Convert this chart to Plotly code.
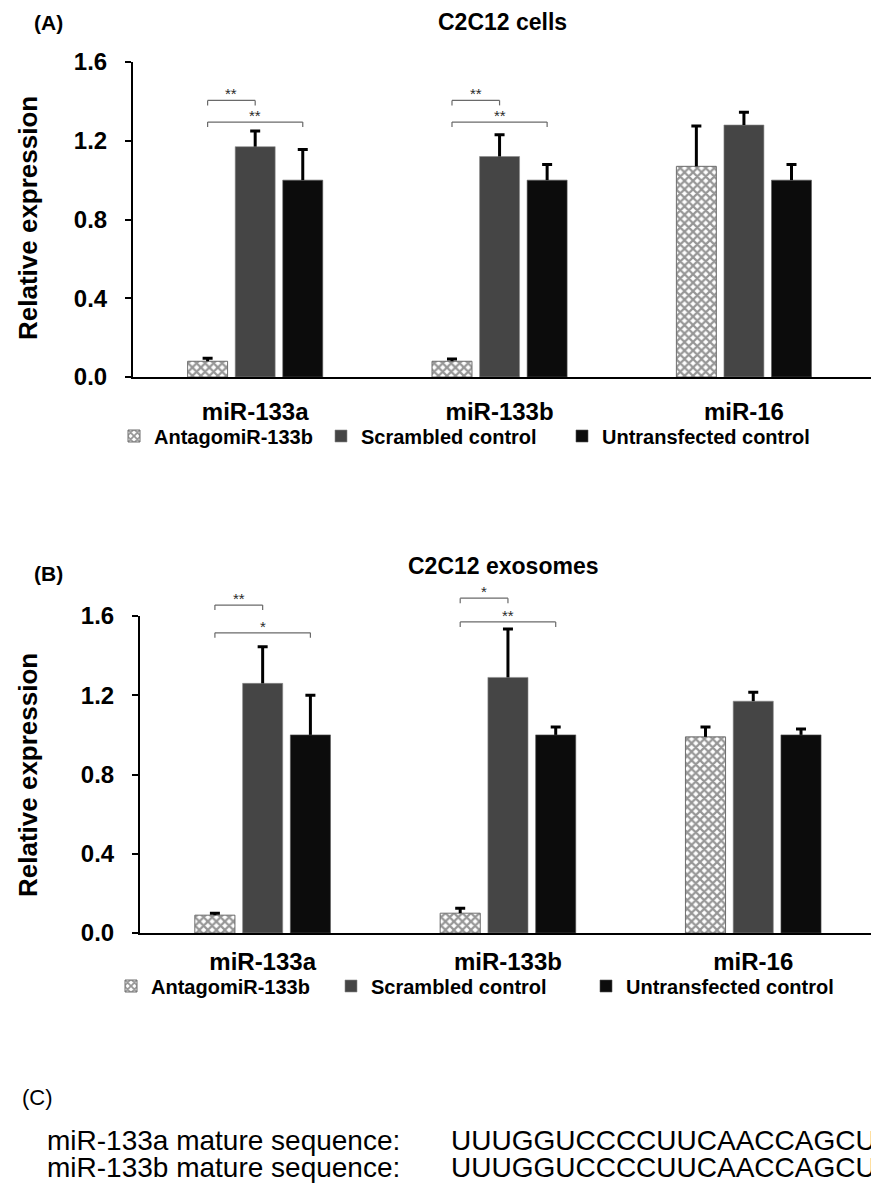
import plotly.graph_objects as go

# ---- data -------------------------------------------------------------
categories = ["miR-133a", "miR-133b", "miR-16"]
series = ["AntagomiR-133b", "Scrambled control", "Untransfected control"]

# C2C12 cells
cells_antago = [0.08, 0.08, 1.07]
cells_antago_err = [0.015, 0.012, 0.205]
cells_scr = [1.17, 1.12, 1.28]
cells_scr_err = [0.08, 0.11, 0.065]
cells_unt = [1.00, 1.00, 1.00]
cells_unt_err = [0.155, 0.08, 0.08]

# C2C12 exosomes
exo_antago = [0.09, 0.10, 0.99]
exo_antago_err = [0.01, 0.025, 0.05]
exo_scr = [1.26, 1.29, 1.17]
exo_scr_err = [0.185, 0.245, 0.045]
exo_unt = [1.00, 1.00, 1.00]
exo_unt_err = [0.20, 0.04, 0.03]

# significance brackets: (category index, from series, to series, height, label)
cells_sig = [(0, 0, 1, 1.405, "**"), (0, 0, 2, 1.295, "**"),
             (1, 0, 1, 1.405, "**"), (1, 0, 2, 1.295, "**")]
exo_sig = [(0, 0, 1, 1.655, "**"), (0, 0, 2, 1.515, "*"),
           (1, 0, 1, 1.69, "*"), (1, 0, 2, 1.57, "**")]

seq_labels = ["miR-133a mature sequence:", "miR-133b mature sequence:"]
seq_values = ["UUUGGUCCCCUUCAACCAGCUG", "UUUGGUCCCCUUCAACCAGCUA"]

# ---- style ------------------------------------------------------------
W, H = 871, 1192
FONT = "Liberation Sans, Arial, sans-serif"
BARGAP = 0.416
GROUPGAP = 0.16
YMAX = 1.6

bar_markers = [
    dict(color="white",
         pattern=dict(shape="x", size=6, solidity=0.6, fgcolor="#2e2e2e", bgcolor="white"),
         line=dict(color="#6e6e6e", width=1)),
    dict(color="#454545", line=dict(color="#8a8a8a", width=0.6)),
    dict(color="#0c0c0c", line=dict(color="#555555", width=0.6)),
]


def py(px):
    """pixel row -> paper fraction"""
    return 1 - px / H


fig = go.Figure()

panels = [
    dict(xa="x", ya="y", legends=["legend", "legend2", "legend3"],
         legend_x=[114, 321, 562], legend_y=436, label_standoff=12,
         vals=[cells_antago, cells_scr, cells_unt],
         errs=[cells_antago_err, cells_scr_err, cells_unt_err],
         sig=cells_sig,
         xdom=[133 / W, 1], xrange=[-0.5, 2.52], ydom=[py(377), py(62)]),
    dict(xa="x2", ya="y2", legends=["legend4", "legend5", "legend6"],
         legend_x=[111, 331, 586], legend_y=986, label_standoff=6,
         vals=[exo_antago, exo_scr, exo_unt],
         errs=[exo_antago_err, exo_scr_err, exo_unt_err],
         sig=exo_sig,
         xdom=[140 / W, 1], xrange=[-0.5, 2.48], ydom=[py(933), py(616)]),
]

legend_layout = {}
for p in panels:
    # bars with the error stems
    for k, name in enumerate(series):
        fig.add_trace(go.Bar(
            x=categories, y=p["vals"][k], name=name, offsetgroup=str(k),
            marker=bar_markers[k], xaxis=p["xa"], yaxis=p["ya"], legend=p["legends"][k],
            error_y=dict(type="data", symmetric=False, array=p["errs"][k],
                         arrayminus=[0] * len(categories), width=0,
                         thickness=3, color="black"),
            hoverinfo="skip"))
        legend_layout[p["legends"][k]] = dict(
            x=p["legend_x"][k] / W, y=py(p["legend_y"]), xanchor="left", yanchor="middle",
            orientation="h", bgcolor="rgba(0,0,0,0)",
            font=dict(family=FONT, size=20, color="black", weight="bold"))
    # caps at the top of each error stem
    for k, name in enumerate(series):
        tops = [v + e for v, e in zip(p["vals"][k], p["errs"][k])]
        fig.add_trace(go.Bar(
            x=categories, y=tops, offsetgroup=str(k), showlegend=False,
            marker=dict(color="rgba(0,0,0,0)", line=dict(width=0)),
            xaxis=p["xa"], yaxis=p["ya"],
            error_y=dict(type="data", symmetric=False, array=[0] * len(categories),
                         arrayminus=[0] * len(categories), width=5,
                         thickness=3, color="black"),
            hoverinfo="skip"))

    # significance brackets
    slot = (1 - BARGAP) / len(series)
    plot_h = (p["ydom"][1] - p["ydom"][0]) * H
    tick = 5 / plot_h
    ydref = p["ya"] + " domain"
    for cat, a, b, yv, lab in p["sig"]:
        x0 = cat + (a - 1) * slot
        x1 = cat + (b - 1) * slot
        yd = yv / YMAX
        line = dict(color="#6a6a6a", width=1.2)
        fig.add_shape(type="line", xref=p["xa"], yref=ydref, x0=x0, x1=x1, y0=yd, y1=yd, line=line)
        fig.add_shape(type="line", xref=p["xa"], yref=ydref, x0=x0, x1=x0, y0=yd, y1=yd - tick, line=line)
        fig.add_shape(type="line", xref=p["xa"], yref=ydref, x0=x1, x1=x1, y0=yd, y1=yd - tick, line=line)
        fig.add_annotation(xref=p["xa"], yref=ydref, x=(x0 + x1) / 2, y=yd, text=lab,
                           showarrow=False, yanchor="bottom", yshift=-4,
                           font=dict(family=FONT, size=15, color="#2a2a2a"))

axis_common_x = dict(type="category", categoryorder="array", categoryarray=categories,
                     showline=True, linecolor="black", linewidth=2, ticks="",
                     showgrid=False, zeroline=False, automargin=False,
                     tickfont=dict(family=FONT, size=24, color="black", weight="bold"))
axis_common_y = dict(range=[0, YMAX], dtick=0.4, tick0=0, tickformat=".1f",
                     showline=True, linecolor="black", linewidth=2,
                     ticks="outside", ticklen=6, tickwidth=2, tickcolor="black",
                     showgrid=False, zeroline=False, automargin=False,
                     tickfont=dict(family=FONT, size=24, color="black", weight="bold"),
                     ticklabelstandoff=13)

fig.update_layout(
    width=W, height=H, margin=dict(l=0, r=0, t=0, b=0, autoexpand=False),
    paper_bgcolor="white", plot_bgcolor="white",
    barmode="group", bargap=BARGAP, bargroupgap=GROUPGAP,
    xaxis=dict(domain=panels[0]["xdom"], range=panels[0]["xrange"], anchor="y",
               ticklabelstandoff=panels[0]["label_standoff"], **axis_common_x),
    yaxis=dict(domain=panels[0]["ydom"], anchor="x", **axis_common_y),
    xaxis2=dict(domain=panels[1]["xdom"], range=panels[1]["xrange"], anchor="y2",
                ticklabelstandoff=panels[1]["label_standoff"], **axis_common_x),
    yaxis2=dict(domain=panels[1]["ydom"], anchor="x2", **axis_common_y),
    showlegend=True,
    **legend_layout,
)

# panel titles, letters and axis titles
texts = [
    ("(A)", 32, 22, 21, True, "left"),
    ("(B)", 32, 573, 21, True, "left"),
    ("C2C12 cells", 502, 22, 23, True, "center"),
    ("C2C12 exosomes", 503, 566, 23, True, "center"),
    ("(C)", 20, 1097, 22, False, "left"),
]
for t, x, y, s, bold, anchor in texts:
    fig.add_annotation(xref="paper", yref="paper", x=x / W, y=py(y), text=t, showarrow=False,
                       xanchor=anchor, yanchor="middle",
                       font=dict(family=FONT, size=s, color="black",
                                 weight="bold" if bold else "normal"))

for yc in (218, 775):
    fig.add_annotation(xref="paper", yref="paper", x=28 / W, y=py(yc), text="Relative expression",
                       showarrow=False, textangle=-90, xanchor="center", yanchor="middle",
                       font=dict(family=FONT, size=26, color="black", weight="bold"))

for i, (lab, seq) in enumerate(zip(seq_labels, seq_values)):
    yc = 1140 + i * 27
    fig.add_annotation(xref="paper", yref="paper", x=45 / W, y=py(yc), text=lab, showarrow=False,
                       xanchor="left", yanchor="middle",
                       font=dict(family=FONT, size=28, color="black"))
    fig.add_annotation(xref="paper", yref="paper", x=449 / W, y=py(yc), text=seq, showarrow=False,
                       xanchor="left", yanchor="middle",
                       font=dict(family=FONT, size=28, color="black"))

fig.write_html("out.html")
